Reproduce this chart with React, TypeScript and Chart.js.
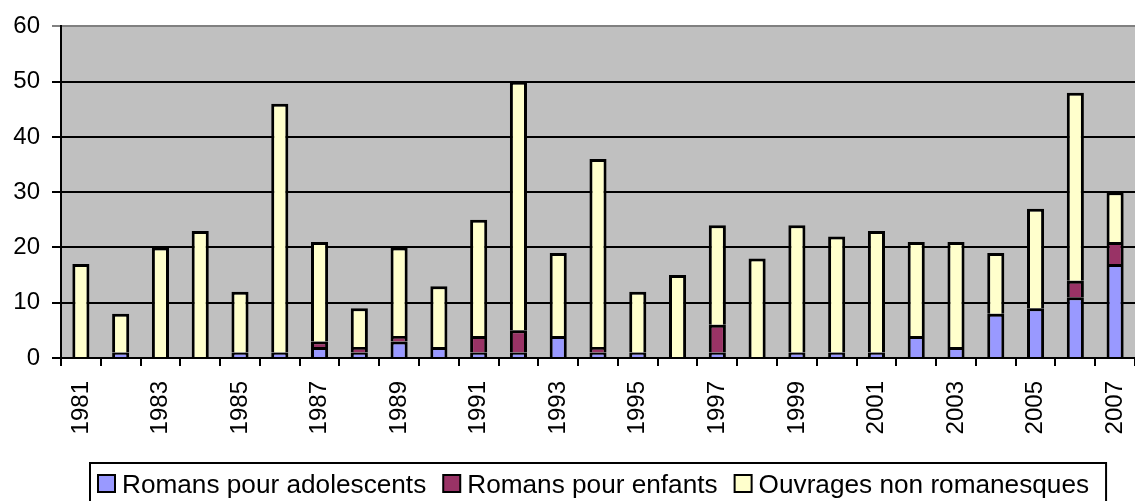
import React, { useEffect, useRef } from "react";
import { Chart, registerables } from "chart.js";

Chart.register(...registerables);

const years = [
  "1981", "1982", "1983", "1984", "1985", "1986", "1987", "1988", "1989",
  "1990", "1991", "1992", "1993", "1994", "1995", "1996", "1997", "1998",
  "1999", "2000", "2001", "2002", "2003", "2004", "2005", "2006", "2007",
];
const adolescents = [0, 1, 0, 0, 1, 1, 2, 1, 3, 2, 1, 1, 4, 1, 1, 0, 1, 0, 1, 1, 1, 4, 2, 8, 9, 11, 17];
const enfants = [0, 0, 0, 0, 0, 0, 1, 1, 1, 0, 3, 4, 0, 1, 0, 0, 5, 0, 0, 0, 0, 0, 0, 0, 0, 3, 4];
const nonRomanesques = [17, 7, 20, 23, 11, 45, 18, 7, 16, 11, 21, 45, 15, 34, 11, 15, 18, 18, 23, 21, 22, 17, 19, 11, 18, 34, 9];
const seriesLabels = ["Romans pour adolescents", "Romans pour enfants", "Ouvrages non romanesques"];
const seriesColors = ["#9999FF", "#993366", "#FFFFCC"];

const FONT = '"Liberation Sans", Arial, sans-serif';

const plotBackground = {
  id: "plotBackground",
  beforeDraw(chart: any) {
    const { ctx, chartArea } = chart;
    ctx.save();
    ctx.fillStyle = "#C0C0C0";
    ctx.fillRect(chartArea.left, chartArea.top, chartArea.right - chartArea.left, chartArea.bottom - chartArea.top);
    ctx.restore();
  },
};

const boxedLegend = {
  id: "boxedLegend",
  afterDraw(chart: any) {
    const { ctx } = chart;
    ctx.save();
    ctx.font = `26.2px ${FONT}`;
    const box = 17;
    const gap = 7;
    const itemGap = 17;
    const items = chart.data.datasets.map((ds: any) => ({
      text: ds.label as string,
      color: ds.backgroundColor as string,
      w: ctx.measureText(ds.label).width,
    }));
    let content = 0;
    items.forEach((it: any, i: number) => {
      content += box + gap + it.w + (i > 0 ? itemGap : 0);
    });
    const padL = 8;
    const padR = 17;
    const W = content + padL + padR;
    const left = 90;
    const top = 463;
    ctx.lineWidth = 2;
    ctx.strokeStyle = "#000";
    ctx.strokeRect(left, top, W, 80);
    let x = left + padL;
    ctx.textBaseline = "alphabetic";
    ctx.textAlign = "left";
    items.forEach((it: any) => {
      ctx.fillStyle = it.color;
      ctx.fillRect(x, 475, box, box);
      ctx.strokeRect(x, 475, box, box);
      ctx.fillStyle = "#000";
      ctx.fillText(it.text, x + box + gap, 493);
      x += box + gap + it.w + itemGap;
    });
    ctx.restore();
  },
};

export default function App() {
  const canvasRef = useRef<HTMLCanvasElement | null>(null);

  useEffect(() => {
    document.body.style.margin = "0";
    const canvas = canvasRef.current;
    if (!canvas) return;
    const data = [adolescents, enfants, nonRomanesques];
    const chart = new Chart(canvas, {
      type: "bar",
      data: {
        labels: years,
        datasets: seriesLabels.map((label, i) => ({
          label,
          data: data[i].map((v) => (v === 0 ? null : v)),
          backgroundColor: seriesColors[i],
          borderColor: "#000000",
          borderWidth: 3,
          borderSkipped: "start",
          barPercentage: 0.43,
          categoryPercentage: 1,
        })),
      },
      options: {
        responsive: false,
        animation: false,
        devicePixelRatio: 1,
        layout: { padding: { top: 26, left: 0, right: -5, bottom: 38 } },
        plugins: {
          legend: { display: false },
          tooltip: { enabled: false },
        },
        scales: {
          x: {
            stacked: true,
            offset: true,
            grid: {
              display: true,
              drawOnChartArea: false,
              drawTicks: true,
              tickLength: 8,
              color: "#000000",
              lineWidth: 2,
              offset: true,
            },
            border: { display: true, color: "#000000", width: 2 },
            ticks: {
              autoSkip: false,
              maxRotation: 90,
              minRotation: 90,
              padding: 15,
              color: "#000000",
              font: { size: 24, family: FONT },
              callback: (_v: any, i: number) => (i % 2 === 0 ? years[i] : ""),
            },
            afterFit: (s: any) => {
              s.height = 105;
              s.paddingLeft = 0;
              s.paddingRight = 0;
            },
          },
          y: {
            stacked: true,
            min: 0,
            max: 60,
            ticks: {
              stepSize: 10,
              padding: 12,
              color: "#000000",
              font: { size: 24, family: FONT },
            },
            grid: {
              color: (c: any) => (c.tick && c.tick.value === 60 ? "#808080" : "#000000"),
              lineWidth: 2,
              tickLength: 9,
              drawTicks: true,
            },
            border: { display: true, color: "#000000", width: 2 },
            afterFit: (s: any) => {
              s.width = 61;
            },
          },
        },
      },
      plugins: [plotBackground, boxedLegend],
    });
    return () => chart.destroy();
  }, []);

  return (
    <div style={{ width: 1135, height: 501, background: "#ffffff" }}>
      <canvas ref={canvasRef} width={1135} height={501} style={{ display: "block" }} />
    </div>
  );
}
